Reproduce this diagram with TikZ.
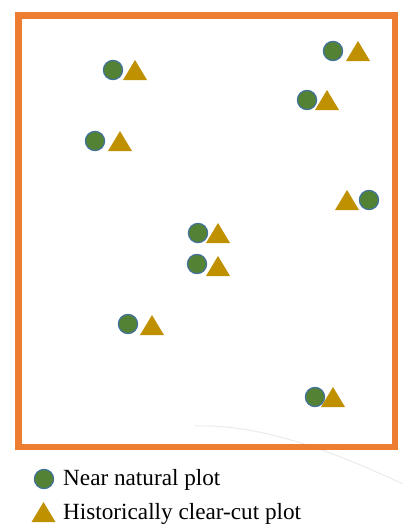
\documentclass[tikz,border=0pt]{standalone}
\usepackage{fontspec}
\setmainfont{Liberation Serif}
\definecolor{frameorange}{HTML}{ED7D31}
\definecolor{plotgreen}{HTML}{548235}
\definecolor{plotblue}{HTML}{41719C}
\definecolor{plotgold}{HTML}{BF9000}
\definecolor{faintgray}{HTML}{EBEBEB}
\newcommand{\circmark}[2]{\filldraw[circmark] (#1,#2) circle (9.6);}
\newcommand{\trimark}[2]{\fill[trimark] (#1-12,#2+10) -- (#1,#2-10) -- (#1+12,#2+10) -- cycle;}
\begin{document}
\begin{tikzpicture}[x=1pt,y=-1pt,
  circmark/.style={fill=plotgreen,draw=plotblue,line width=1.2pt},
  trimark/.style={fill=plotgold},
  legendtext/.style={anchor=base west,inner sep=0pt,font=\fontsize{23.2}{27}\selectfont},
  frameline/.style={draw=frameorange,line width=6.8pt}]
\useasboundingbox (0,0) rectangle (403,525);
% faint background curve
\draw[faintgray,line width=1pt] (195,426) .. controls (260,424) and (330,450) .. (403,484);
% frame
\draw[frameline] (18.5,15.5) rectangle (395,447);
% plots
\circmark{113}{70}\trimark{135}{70}
\circmark{333}{51}\trimark{358}{51}
\circmark{307}{100}\trimark{327}{100}
\circmark{95}{141}\trimark{120}{141}
\trimark{347}{200}\circmark{369}{200}
\circmark{198}{233}\trimark{218}{233}
\circmark{197}{264}\trimark{218}{266}
\circmark{128}{324}\trimark{152}{325}
\circmark{315}{397}\trimark{333}{397}
% legend
\circmark{44}{479}
\trimark{43.5}{512}
\node[legendtext] (lnear) at (63,485) {Near natural plot};
\node[legendtext] (lclear) at (63,519) {Historically clear-cut plot};
\end{tikzpicture}
\end{document}
